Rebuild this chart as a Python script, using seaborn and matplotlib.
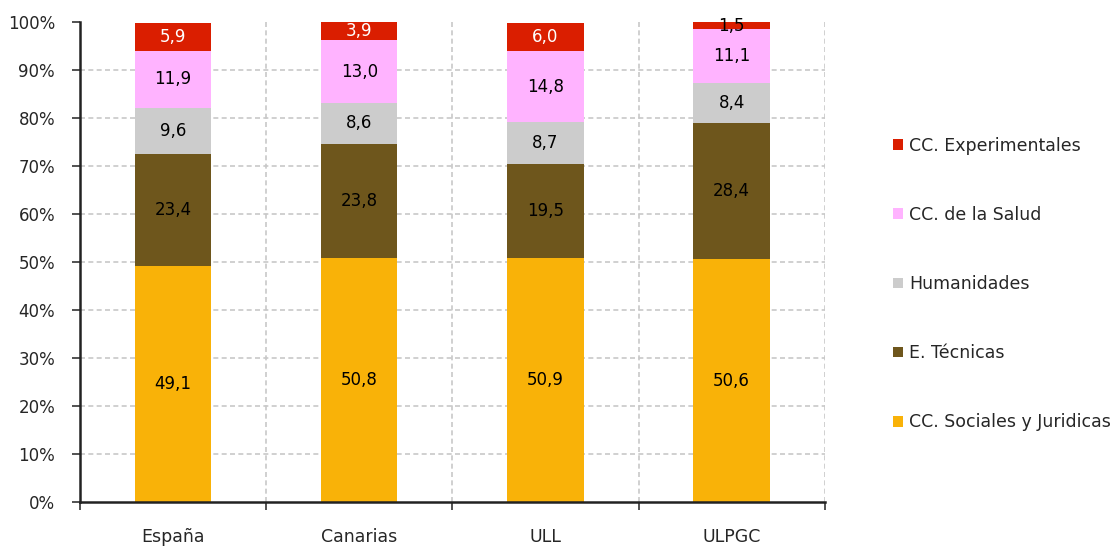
import numpy as np
import pandas as pd
import matplotlib
matplotlib.use("Agg")
import matplotlib.pyplot as plt
from matplotlib.patches import Patch
import seaborn as sns

# --- data (stack order bottom -> top) ---
regions = ["España", "Canarias", "ULL", "ULPGC"]
fields = ["CC. Sociales y Juridicas", "E. Técnicas", "Humanidades",
          "CC. de la Salud", "CC. Experimentales"]
sociales = [49.1, 50.8, 50.9, 50.6]
tecnicas = [23.4, 23.8, 19.5, 28.4]
humanidades = [9.6, 8.6, 8.7, 8.4]
salud = [11.9, 13.0, 14.8, 11.1]
experimentales = [5.9, 3.9, 6.0, 1.5]

colors = ["#F9B208", "#6E561C", "#CCCCCC", "#FFB3FF", "#DA1E00"]

df = pd.DataFrame([sociales, tecnicas, humanidades, salud, experimentales],
                  index=fields, columns=regions)
cum = df.cumsum()

sns.set_style("white")
plt.rcParams["font.family"] = ["DejaVu Sans"]

fig = plt.figure(figsize=(11.19, 5.52), dpi=100)
ax = fig.add_axes([0.0715, 0.0906, 0.737 - 0.0715, 0.96 - 0.0906])

# draw cumulative bars from the top layer down so they overlap into a stack
for i in range(len(fields) - 1, -1, -1):
    d = pd.DataFrame({"region": regions, "top": cum.iloc[i].values})
    sns.barplot(data=d, x="region", y="top", color=colors[i], saturation=1,
                width=0.41, linewidth=0, ax=ax, zorder=3)

# segment labels (white on the red band, unless the band is too thin)
for i, f in enumerate(fields):
    for j, r in enumerate(regions):
        v = df.loc[f, r]
        mid = cum.iloc[i, j] - v / 2
        col = "white" if (i == len(fields) - 1 and v >= 3) else "black"
        ax.text(j, mid, f"{v:.1f}".replace(".", ","), ha="center", va="center",
                fontsize=12, color=col, zorder=5)

ax.set_xlim(-0.5, 3.5)
ax.set_ylim(0, 100)
ax.set_xlabel("")
ax.set_ylabel("")

ax.set_yticks(np.arange(0, 101, 10))
ax.set_yticklabels([f"{t}%" for t in range(0, 101, 10)], fontsize=12)
ax.tick_params(axis="y", direction="out", length=6, width=1.2, color="#333333",
               left=True, pad=12)

ax.set_xticks(range(len(regions)))
ax.set_xticklabels(regions, fontsize=12.5)
ax.tick_params(axis="x", which="major", length=0, pad=19)
ax.set_xticks(np.arange(-0.5, 3.6, 1), minor=True)
ax.tick_params(axis="x", which="minor", direction="out", length=6, width=1.2,
               color="#333333", bottom=True)

for y in range(10, 100, 10):
    ax.axhline(y, color="#C8C8C8", linestyle=(0, (3, 2)), linewidth=1.2, zorder=1)
for x in np.arange(0.5, 3.6, 1):
    ax.axvline(x, color="#C8C8C8", linestyle=(0, (3, 2)), linewidth=1.2, zorder=1)

sns.despine(ax=ax, top=True, right=True)
for s in ["left", "bottom"]:
    ax.spines[s].set_color("#222222")
    ax.spines[s].set_linewidth(1.8)
    ax.spines[s].set_zorder(6)

handles = [Patch(facecolor=colors[i], edgecolor="none", label=fields[i])
           for i in range(len(fields) - 1, -1, -1)]
fig.legend(handles=handles, loc="center left", bbox_to_anchor=(0.792, 0.4855),
           frameon=False, fontsize=12.5, handlelength=0.55, handleheight=0.55,
           handletextpad=0.35, labelspacing=2.95, borderaxespad=0)

fig.savefig("out.png", dpi=100)
